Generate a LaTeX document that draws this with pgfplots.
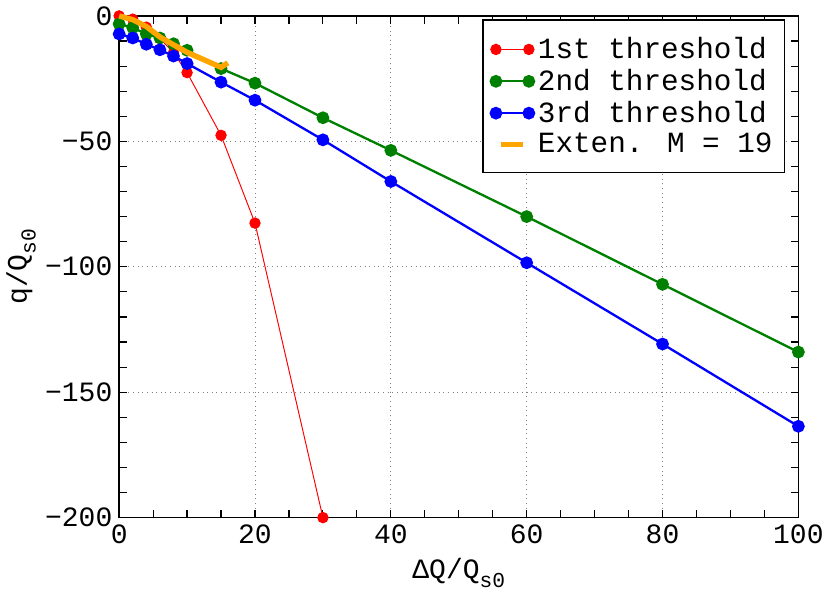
\documentclass[border=0pt]{standalone}
\usepackage{fontspec}
\setmainfont{Liberation Mono}
\usepackage{pgfplots}
\pgfplotsset{compat=1.18}
\definecolor{mgreen}{RGB}{0,128,0}
\definecolor{morange}{RGB}{255,165,0}
\pgfplotsset{
  twomarks/.style={legend image code/.code={\draw[mark repeat=2,mark phase=1,##1] plot coordinates {(0cm,0cm) (0.3cm,0cm) (0.6cm,0cm)};}},
  shortline/.style={legend image code/.code={\draw[##1] (0.1cm,0cm) -- (0.5cm,0cm);}}
}
\begin{document}
\begin{tikzpicture}
\begin{axis}[
  set layers,
  scale only axis,
  width=352pt, height=260pt,
  xmin=0, xmax=100, ymin=-200, ymax=0,
  xtick={0,20,40,60,80,100},
  minor xtick={5,10,15,25,30,35,45,50,55,65,70,75,85,90,95},
  ytick={-200,-150,-100,-50,0},
  yticklabels={−200,−150,−100,−50,0},
  minor ytick={-190,-180,-170,-160,-140,-130,-120,-110,-90,-80,-70,-60,-40,-30,-20,-10},
  major tick length=4pt, minor tick length=4pt,
  tick style={black, line width=0.6pt},
  tick align=inside,
  axis line style={line width=0.8pt},
  grid=major,
  major grid style={gray, dotted, line width=0.5pt},
  /pgf/number format/assume math mode=true,
  tick label style={font=\fontsize{14.5}{16}\selectfont},
  label style={font=\fontsize{14.5}{16}\selectfont},
  xlabel={ΔQ/Q\raisebox{-0.6ex}{\fontsize{11}{12}\selectfont s0}},
  ylabel={q/Q\raisebox{-0.6ex}{\fontsize{11}{12}\selectfont s0}},
  xlabel style={yshift=-1pt},
  ylabel style={yshift=-2pt},
  legend style={at={(0.98,0.993)}, anchor=north east, draw=black, line width=0.6pt,
    font=\fontsize{15.2}{17}\selectfont, row sep=0pt, inner xsep=4pt, inner ysep=7pt},
  legend cell align=left,
]
\addplot[red, line width=0.5pt, mark=*, mark size=2.7pt, mark options={solid}, twomarks]
  coordinates {(0,0) (2,-1.3) (4,-4.5) (6,-9) (8,-14.7) (10,-22.6) (15,-47.6) (20,-82.6) (30,-200)};
\addlegendentry{1st threshold}
\addplot[mgreen, line width=1.2pt, mark=*, mark size=2.7pt, twomarks]
  coordinates {(0,-3.2) (2,-4.7) (4,-7.2) (6,-8.8) (8,-11.1) (10,-13.7) (15,-21) (20,-26.8) (30,-40.6) (40,-53.6) (60,-80) (80,-107) (100,-134)};
\addlegendentry{2nd threshold}
\addplot[blue, line width=1.2pt, mark=*, mark size=2.7pt, twomarks]
  coordinates {(0,-7.2) (2,-8.8) (4,-11.3) (6,-13.5) (8,-16) (10,-19) (15,-26.4) (20,-33.6) (30,-49.4) (40,-66) (60,-98.4) (80,-130.8) (100,-163.6)};
\addlegendentry{3rd threshold}
\addplot[morange, line width=2.8pt, no marks, shortline, on layer=axis foreground]
  coordinates {(0,0) (2,-1.5) (4,-4.2) (6,-8.4) (8,-11.5) (10,-14.5) (15,-20.5) (16,-18.7)};
\addlegendentry{Exten. M = 19}
\end{axis}
\end{tikzpicture}
\end{document}
